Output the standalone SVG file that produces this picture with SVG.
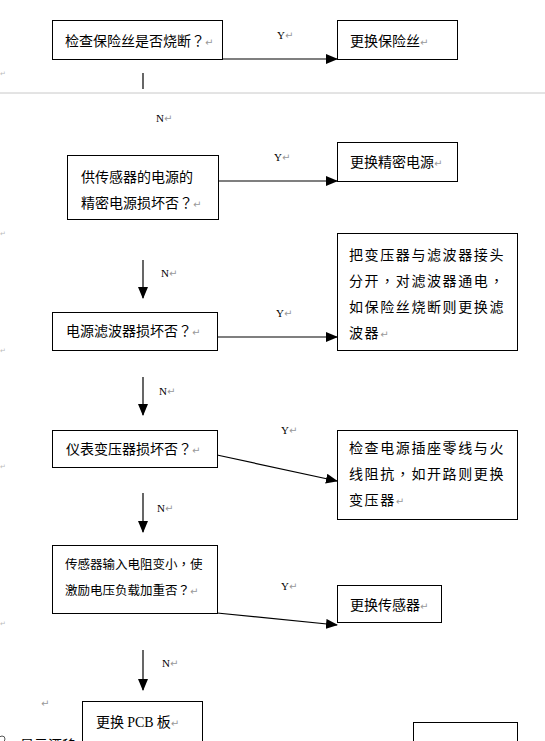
<svg xmlns="http://www.w3.org/2000/svg" width="545" height="741" viewBox="0 0 545 741">
<defs>
<marker id="ah" markerWidth="12" markerHeight="10" refX="11" refY="5" orient="auto" markerUnits="userSpaceOnUse">
<path d="M0,0 L12,5 L0,10 Z" fill="#000"/>
</marker>
<style>
.box{fill:#fff;stroke:#000;stroke-width:1}
.t{font-family:"Noto Sans CJK SC","Noto Sans",sans-serif;font-size:14px;fill:#000}
.ts{font-family:"Noto Sans CJK SC","Noto Sans",sans-serif;font-size:12.5px;fill:#000}
.p{font-family:"Noto Sans CJK TC","Noto Sans CJK SC",sans-serif}
.sp{letter-spacing:1.6px}
.lb{font-family:"Liberation Serif",serif;font-size:11px;fill:#000}
.pm{fill:#999;font-family:"DejaVu Sans",sans-serif;font-size:10px;letter-spacing:0}
.ln{stroke:#000;stroke-width:1.2;fill:none}
.mg{fill:#bbb;font-family:"DejaVu Sans",sans-serif;font-size:7px}
</style>
</defs>
<rect width="545" height="741" fill="#fff"/>
<line x1="0" y1="93" x2="545" y2="93" stroke="#c8c8c8" stroke-width="1"/>
<g id="margin">
<text class="mg" x="0" y="76">↵</text>
<text class="mg" x="0" y="236">↵</text>
<text class="mg" x="0" y="353">↵</text>
<text class="mg" x="0" y="469">↵</text>
<text class="mg" x="0" y="626">↵</text>
<text class="pm" x="41" y="707">↵</text>
<circle cx="2" cy="739" r="3" fill="none" stroke="#555" stroke-width="1"/>
<text class="t" x="20" y="750">显示漂移</text>
</g>
<g id="connectors">
<path class="ln" d="M222,59 L337,59" marker-end="url(#ah)"/>
<path class="ln" d="M143,73 L143,89"/>
<path class="ln" d="M219,181 L337,181" marker-end="url(#ah)"/>
<path class="ln" d="M143,260 L143,298" marker-end="url(#ah)"/>
<path class="ln" d="M217,337 L337,337" marker-end="url(#ah)"/>
<path class="ln" d="M143,377 L143,415" marker-end="url(#ah)"/>
<path class="ln" d="M217,455 L337,481" marker-end="url(#ah)"/>
<path class="ln" d="M143,493 L143,532" marker-end="url(#ah)"/>
<path class="ln" d="M217,613 L337,625" marker-end="url(#ah)"/>
<path class="ln" d="M143,650 L143,690" marker-end="url(#ah)"/>
<text class="lb" x="277" y="39">Y<tspan class="pm">↵</tspan></text>
<text class="lb" x="156" y="122">N<tspan class="pm">↵</tspan></text>
<text class="lb" x="274" y="161">Y<tspan class="pm">↵</tspan></text>
<text class="lb" x="161" y="277">N<tspan class="pm">↵</tspan></text>
<text class="lb" x="276" y="317">Y<tspan class="pm">↵</tspan></text>
<text class="lb" x="159" y="395">N<tspan class="pm">↵</tspan></text>
<text class="lb" x="281" y="434">Y<tspan class="pm">↵</tspan></text>
<text class="lb" x="157" y="512">N<tspan class="pm">↵</tspan></text>
<text class="lb" x="281" y="590">Y<tspan class="pm">↵</tspan></text>
<text class="lb" x="162" y="667">N<tspan class="pm">↵</tspan></text>
</g>
<g id="n1"><rect class="box" x="52.5" y="20.5" width="170" height="39"/><text class="t" x="65" y="46">检查保险丝是否烧断<tspan class="p">？</tspan><tspan class="pm">↵</tspan></text></g>
<g id="n2"><rect class="box" x="337.5" y="20.5" width="120" height="39"/><text class="t" x="350" y="46">更换保险丝<tspan class="pm">↵</tspan></text></g>
<g id="n3"><rect class="box" x="67.5" y="155.5" width="151" height="64"/><text class="t" x="81" y="182">供传感器的电源的</text><text class="t" x="81" y="208">精密电源损坏否<tspan class="p">？</tspan><tspan class="pm">↵</tspan></text></g>
<g id="n4"><rect class="box" x="337.5" y="142.5" width="120" height="39"/><text class="t" x="350" y="167">更换精密电源<tspan class="pm">↵</tspan></text></g>
<g id="n5"><rect class="box" x="52.5" y="312.5" width="165" height="38"/><text class="t" x="66" y="336">电源滤波器损坏否<tspan class="p">？</tspan><tspan class="pm">↵</tspan></text></g>
<g id="n6"><rect class="box" x="337.5" y="233.5" width="180" height="117"/><text class="t sp" x="349" y="260">把变压器与滤波器接头</text><text class="t sp" x="349" y="286">分开<tspan class="p">，</tspan>对滤波器通电<tspan class="p">，</tspan></text><text class="t sp" x="349" y="312">如保险丝烧断则更换滤</text><text class="t sp" x="349" y="338">波器<tspan class="pm">↵</tspan></text></g>
<g id="n7"><rect class="box" x="52.5" y="430.5" width="165" height="37"/><text class="t" x="66" y="454">仪表变压器损坏否<tspan class="p">？</tspan><tspan class="pm">↵</tspan></text></g>
<g id="n8"><rect class="box" x="337.5" y="430.5" width="180" height="89"/><text class="t sp" x="349" y="453">检查电源插座零线与火</text><text class="t sp" x="349" y="479">线阻抗<tspan class="p">，</tspan>如开路则更换</text><text class="t sp" x="349" y="505">变压器<tspan class="pm">↵</tspan></text></g>
<g id="n9"><rect class="box" x="52.5" y="545.5" width="165" height="68"/><text class="ts" x="65" y="569">传感器输入电阻变小<tspan class="p">，</tspan>使</text><text class="ts" x="65" y="595">激励电压负载加重否<tspan class="p">？</tspan><tspan class="pm">↵</tspan></text></g>
<g id="n10"><rect class="box" x="337.5" y="585.5" width="104" height="37"/><text class="t" x="350" y="610">更换传感器<tspan class="pm">↵</tspan></text></g>
<g id="n11"><rect class="box" x="82.5" y="701.5" width="120" height="50"/><text class="t" x="96" y="727">更换 <tspan font-family="Liberation Serif">PCB</tspan> 板<tspan class="pm">↵</tspan></text></g>
<g id="n12"><rect class="box" x="413.5" y="722.5" width="104" height="40"/></g>
</svg>
